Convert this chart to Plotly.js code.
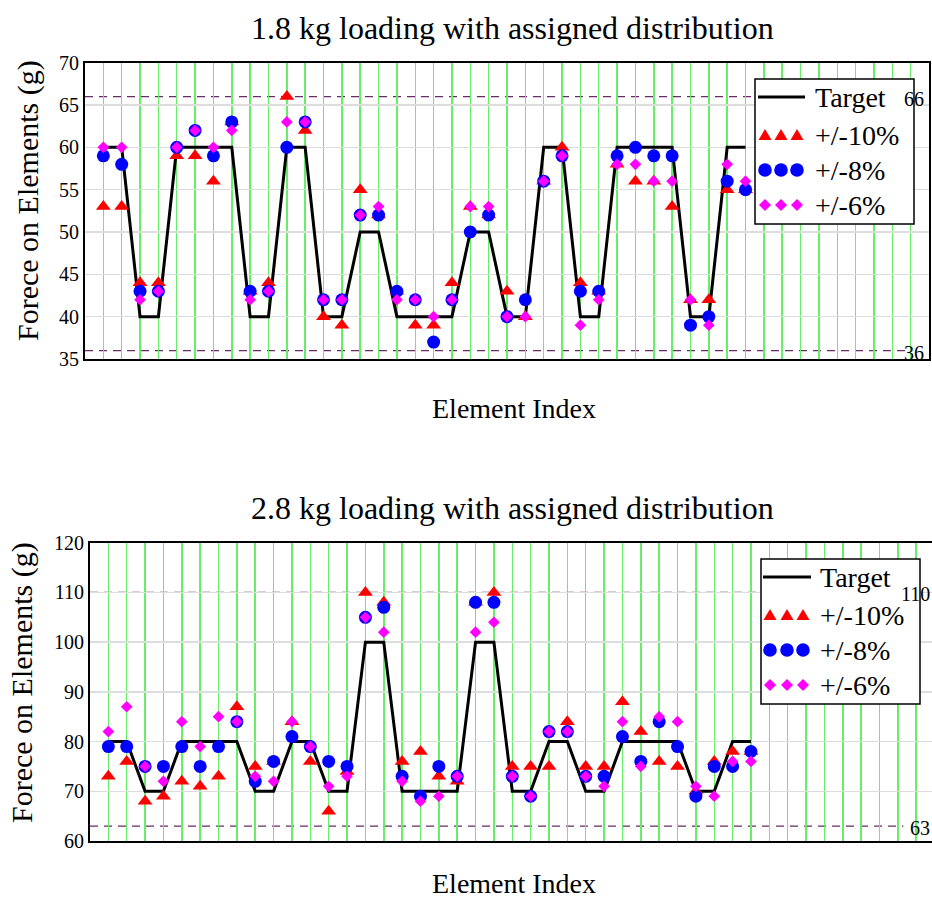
<!DOCTYPE html>
<html><head><meta charset="utf-8">
<script src="https://cdn.plot.ly/plotly-3.0.1.min.js"></script>
<style>html,body{margin:0;padding:0;background:#fff}</style>
</head><body><div id="chart" style="width:932px;height:902px"></div>
<script>
// ---------- DATA ----------
const elementIndex = [1,2,3,4,5,6,7,8,9,10,11,12,13,14,15,16,17,18,19,20,21,22,23,24,25,26,27,28,29,30,31,32,33,34,35,36];

// 1.8 kg loading
const target18 = [60,60,40,40,60,60,60,60,40,40,60,60,40,40,50,50,40,40,40,40,50,50,40,40,60,60,40,40,60,60,60,60,40,40,60,60];
const tol10_18 = [53,53,44,44,59,59,56,63,43,44,66,62,40,39,55,52,43,39,39,44,53,52,43,40,56,60,44,43,58,56,56,53,42,42,55,55];
const tol8_18  = [59,58,43,43,60,62,59,63,43,43,60,63,42,42,52,52,43,42,37,42,50,52,40,42,56,59,43,43,59,60,59,59,39,40,56,55];
const tol6_18  = [60,60,42,43,60,62,60,62,42,43,63,63,42,42,52,53,42,42,40,42,53,53,40,40,56,59,39,42,58,58,56,56,42,39,58,56];
const limits18 = [66, 36];

// 2.8 kg loading
const target28 = [80,80,70,70,80,80,80,80,70,70,80,80,70,70,100,100,70,70,70,70,100,100,70,70,80,80,70,70,80,80,80,80,70,70,80,80];
const tol10_28 = [73,76,68,69,72,71,73,87,75,76,84,76,66,74,110,108,76,78,73,72,108,110,75,75,75,84,75,75,88,82,76,75,70,76,78,78];
const tol8_28  = [79,79,75,75,79,75,79,84,72,76,81,79,76,75,105,107,73,69,75,73,108,108,73,69,82,82,73,73,81,76,84,79,69,75,75,78];
const tol6_28  = [82,87,75,72,84,79,85,84,73,72,84,79,71,73,105,102,72,68,69,73,102,104,73,69,82,82,73,71,84,75,85,84,71,69,76,76];
const limits28 = [110, 63];

const chartTitles = ["1.8 kg loading with assigned distribution", "2.8 kg loading with assigned distribution"];
const xTitle = "Element Index";
const yTitle = "Forece on Elements (g)";
const seriesNames = ["Target", "+/-10%", "+/-8%", "+/-6%"];

// ---------- STYLE ----------
const W = 932, H = 902;
const fx = p => p / W, fy = p => 1 - p / H;
const SERIF = "'Liberation Serif', 'DejaVu Serif', serif";
const RED = "#ff0000", BLUE = "#0000ff", MAG = "#ff00ff";
const GREEN = "#66ee66", GRAY = "#dddddd", DASH = "#6a2a6a";

function seriesTraces(xa, ya, tgt, t10, t8, t6) {
  return [
    {x: elementIndex, y: tgt, xaxis: xa, yaxis: ya, mode: "lines", name: seriesNames[0],
     line: {color: "#000", width: 3}, showlegend: false, hoverinfo: "skip"},
    {x: elementIndex, y: t10, xaxis: xa, yaxis: ya, mode: "markers", name: seriesNames[1],
     marker: {symbol: "triangle-up", size: 13, color: RED, line: {width: 0}}, showlegend: false},
    {x: elementIndex, y: t8, xaxis: xa, yaxis: ya, mode: "markers", name: seriesNames[2],
     marker: {symbol: "circle", size: 13, color: BLUE, line: {width: 0}}, showlegend: false},
    {x: elementIndex, y: t6, xaxis: xa, yaxis: ya, mode: "markers", name: seriesNames[3],
     marker: {symbol: "diamond", size: 9, color: MAG, line: {width: 0}}, showlegend: false}
  ];
}

const data = [
  ...seriesTraces("x", "y", target18, tol10_18, tol8_18, tol6_18),
  ...seriesTraces("x2", "y2", target28, tol10_28, tol8_28, tol6_28)
];

const xCommon = {dtick: 1, tick0: 0, showgrid: true, gridcolor: GREEN, gridwidth: 1.5,
  showticklabels: false, ticks: "", zeroline: false, showline: true, mirror: true,
  linecolor: "#000", linewidth: 2, fixedrange: true};
const yCommon = {showgrid: true, gridcolor: GRAY, gridwidth: 1.5, ticks: "", zeroline: false,
  showline: true, mirror: true, linecolor: "#000", linewidth: 2, fixedrange: true,
  tickfont: {family: SERIF, size: 20, color: "#000"}};

const shapes = [];
const annotations = [];

// limit (dashed) lines + labels
function limitLines(yref, vals, x1, labelX, anchor) {
  vals.forEach(v => {
    shapes.push({type: "line", xref: yref === "y" ? "x domain" : "x2 domain", yref: yref,
      x0: 0, x1: x1, y0: v, y1: v, layer: "below",
      line: {color: DASH, width: 1.3, dash: "8px,6px"}});
    annotations.push({text: String(v), xref: "paper", yref: yref, x: labelX, y: v,
      xanchor: anchor, yanchor: "middle", yshift: -2, showarrow: false,
      font: {family: SERIF, size: 20, color: "#000"}});
  });
}
limitLines("y", limits18, 0.975, fx(926), "right");
limitLines("y2", limits28, 0.966, 1.0, "right");

// titles
function addText(text, px, py, size, angle) {
  annotations.push({text: text, xref: "paper", yref: "paper", x: fx(px), y: fy(py),
    xanchor: "center", yanchor: "middle", showarrow: false, textangle: angle || 0,
    borderpad: 0, font: {family: SERIF, size: size, color: "#000"}});
}
addText(chartTitles[0], 512, 28, 32);
addText(chartTitles[1], 512, 508, 32);
addText(xTitle, 514, 409, 28);
addText(xTitle, 514, 883, 28);
addText(yTitle, 28, 201, 30, -90);
addText(yTitle, 22, 683, 30, -90);

// custom legends (three markers per entry, like the original)
function legend(bx0, by0, bx1, by1, lineX0, lineX1, markX, textX, rowsY) {
  shapes.push({type: "rect", xref: "paper", yref: "paper", x0: fx(bx0), x1: fx(bx1),
    y0: fy(by1), y1: fy(by0), fillcolor: "#fff", line: {color: "#000", width: 1.5}, layer: "above"});
  shapes.push({type: "line", xref: "paper", yref: "paper", x0: fx(lineX0), x1: fx(lineX1),
    y0: fy(rowsY[0]), y1: fy(rowsY[0]), line: {color: "#000", width: 3}, layer: "above"});
  markX.forEach(mx => {
    const base = {xref: "paper", yref: "paper", xsizemode: "pixel", ysizemode: "pixel",
      xanchor: fx(mx), layer: "above", line: {width: 0}};
    shapes.push(Object.assign({}, base, {type: "path", yanchor: fy(rowsY[1]),
      path: "M-6.5,-5 L6.5,-5 L0,6 Z", fillcolor: RED}));
    shapes.push(Object.assign({}, base, {type: "circle", yanchor: fy(rowsY[2]),
      x0: -6.8, x1: 6.8, y0: -6.8, y1: 6.8, fillcolor: BLUE}));
    shapes.push(Object.assign({}, base, {type: "path", yanchor: fy(rowsY[3]),
      path: "M-6,0 L0,6 L6,0 L0,-6 Z", fillcolor: MAG}));
  });
  seriesNames.forEach((nm, i) => {
    annotations.push({text: nm, xref: "paper", yref: "paper", x: fx(textX), y: fy(rowsY[i]),
      xanchor: "left", yanchor: "middle", showarrow: false,
      font: {family: SERIF, size: 28, color: "#000"}});
  });
}
legend(755, 79, 914, 224, 758, 805, [765, 781, 797], 813, [97, 135, 170, 205]);
legend(761, 559, 920, 704, 763, 811, [770, 787, 803], 818, [577, 615, 650, 685]);

const layout = {
  width: W, height: H, margin: {l: 0, r: 0, t: 0, b: 0},
  paper_bgcolor: "#fff", plot_bgcolor: "#fff", showlegend: false,
  font: {family: SERIF},
  xaxis: Object.assign({}, xCommon, {domain: [fx(85), fx(929)], range: [0, 46], anchor: "y"}),
  yaxis: Object.assign({}, yCommon, {domain: [fy(359), fy(62.7)], range: [35, 70], dtick: 5, anchor: "x"}),
  xaxis2: Object.assign({}, xCommon, {domain: [fx(90), 1], range: [0, 45.86], anchor: "y2"}),
  yaxis2: Object.assign({}, yCommon, {domain: [fy(841), fy(542.7)], range: [60, 120], dtick: 10, anchor: "x2"}),
  shapes: shapes, annotations: annotations
};

Plotly.newPlot("chart", data, layout, {displayModeBar: false, staticPlot: true});
</script></body></html>
